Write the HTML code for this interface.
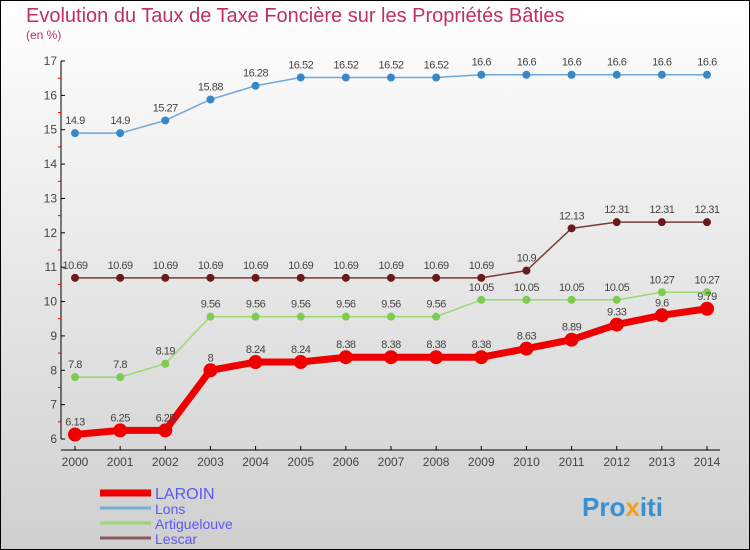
<!DOCTYPE html>
<html><head><meta charset="utf-8"><style>
body{margin:0;width:750px;height:550px;overflow:hidden}
svg{display:block;font-family:"Liberation Sans",sans-serif}
</style></head><body>
<svg width="750" height="550">
<defs><linearGradient id="bg" x1="0" y1="0" x2="0" y2="1"><stop offset="0" stop-color="#ffffff"/><stop offset="1" stop-color="#cfcfcf"/></linearGradient></defs>
<rect x="0.5" y="0.5" width="749" height="549" fill="url(#bg)" stroke="#000"/>
<text x="26" y="22" font-size="20" fill="#c0305a">Evolution du Taux de Taxe Foncière sur les Propriétés Bâties</text>
<text x="26" y="39" font-size="12" fill="#c0305a">(en %)</text>
<g id="axes"></g><g id="series"></g><g id="legend"></g>
<text x="582" y="516" font-size="26" font-weight="bold" fill="#3a8fd0">Pro<tspan fill="#f0a020">x</tspan>iti</text>
</svg>
<script>
const years=[2000,2001,2002,2003,2004,2005,2006,2007,2008,2009,2010,2011,2012,2013,2014];
const yTicks=[6,7,8,9,10,11,12,13,14,15,16,17];
const laroin=[6.13,6.25,6.25,8,8.24,8.24,8.38,8.38,8.38,8.38,8.63,8.89,9.33,9.6,9.79];
const lons=[14.9,14.9,15.27,15.88,16.28,16.52,16.52,16.52,16.52,16.6,16.6,16.6,16.6,16.6,16.6];
const artig=[7.8,7.8,8.19,9.56,9.56,9.56,9.56,9.56,9.56,10.05,10.05,10.05,10.05,10.27,10.27];
const lescar=[10.69,10.69,10.69,10.69,10.69,10.69,10.69,10.69,10.69,10.69,10.9,12.13,12.31,12.31,12.31];
const NS='http://www.w3.org/2000/svg';
const X=i=>75+i*(632/14);
const Y=v=>439-(v-6)*(378/11);
function mk(t,a,p){const e=document.createElementNS(NS,t);for(const k in a)e.setAttribute(k,a[k]);p.appendChild(e);return e;}
const ax=document.getElementById('axes');
let e=mk('line',{x1:61,y1:Y(17),x2:61,y2:Y(6),stroke:'#000'},ax);


e=mk('line',{x1:61,y1:450,x2:720,y2:450,stroke:'#000'},ax);


yTicks.forEach(v=>{mk('line',{x1:61,y1:Y(v),x2:65,y2:Y(v),stroke:'#000'},ax);
if(v<17)mk('line',{x1:58,y1:Y(v+0.5),x2:61,y2:Y(v+0.5),stroke:'#e00'},ax);
const t=mk('text',{x:57,y:Y(v)+4,'font-size':12,fill:'#444','text-anchor':'end'},ax);t.textContent=v;

});
years.forEach((y,i)=>{mk('line',{x1:X(i),y1:446,x2:X(i),y2:450,stroke:'#000'},ax);
const t=mk('text',{x:X(i),y:466,'font-size':12,fill:'#444','text-anchor':'middle'},ax);t.textContent=y;

});
const sg=document.getElementById('series');
function series(d,name,col,w,r,dot){const g=mk('g',{},sg);


mk('polyline',{points:d.map((v,i)=>X(i)+','+Y(v)).join(' '),fill:'none',stroke:col,'stroke-width':w,'stroke-linejoin':'round'},g);
d.forEach((v,i)=>{const c=mk('circle',{cx:X(i),cy:Y(v),r:r,fill:dot},g);


const t=mk('text',{x:X(i),y:Y(v)-9,'font-size':11,fill:'#444','text-anchor':'middle','letter-spacing':'-0.5'},g);t.textContent=v;

});}
series(lons,'lons','#6fa8d8',1.5,4,'#3a87c8');
series(lescar,'lescar','#7a3a3a',1.5,4,'#6a1a1a');
series(artig,'artiguelouve','#9ad870',1.5,4,'#7ccc50');
series(laroin,'laroin','#ee0000',7,7,'#ee0000');
const lg=document.getElementById('legend');
[['LAROIN','#ee0000',7,16],['Lons','#7aaed0',3,14],['Artiguelouve','#9ad870',3,14],['Lescar','#8a5a5a',3,14]].forEach((s,i)=>{
const y=493+i*15;const g=mk('g',{},lg);


mk('line',{x1:100,y1:y,x2:151,y2:y,stroke:s[1],'stroke-width':s[2]},g);
const t=mk('text',{x:155,y:y+6,'font-size':s[3],fill:'#5a5aee'},g);t.textContent=s[0];});
</script>
</body></html>
